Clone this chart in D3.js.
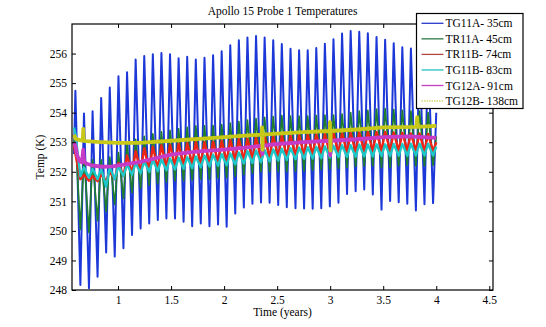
<!DOCTYPE html>
<html><head><meta charset="utf-8">
<script src="https://cdn.jsdelivr.net/npm/d3@7"></script>
<style>
body{margin:0;background:#fff}
svg{display:block}
text{font-family:"Liberation Serif","Times New Roman",Times,serif;fill:#000}
</style>
</head><body>
<svg id="chart" width="546" height="327"></svg>
<script>
// ---------- data ----------
const chartTitle = "Apollo 15 Probe 1 Temperatures";
const xLabel = "Time (years)";
const yLabel = "Temp (K)";
const xTicks = [1, 1.5, 2, 2.5, 3, 3.5, 4, 4.5];
const yTicks = [248, 249, 250, 251, 252, 253, 254, 255, 256];
const seriesNames = ["TG11A- 35cm", "TR11A- 45cm", "TR11B- 74cm", "TG11B- 83cm", "TG12A- 91cm", "TG12B- 138cm"];

const timeSpan = [0.585, 4.0];
const peakTimes = [0.598,0.679,0.760,0.841,0.922,1.004,1.085,1.166,1.247,1.328,1.409,1.490,1.571,1.652,1.733,1.815,1.896,1.977,2.058,2.139,2.220,2.301,2.382,2.463,2.544,2.626,2.707,2.788,2.869,2.950,3.031,3.112,3.193,3.274,3.355,3.437,3.518,3.599,3.680,3.761,3.842,3.923];
const troughTimes = [0.645,0.726,0.807,0.888,0.969,1.051,1.132,1.213,1.294,1.375,1.456,1.537,1.618,1.699,1.780,1.862,1.943,2.024,2.105,2.186,2.267,2.348,2.429,2.510,2.591,2.673,2.754,2.835,2.916,2.997,3.078,3.159,3.240,3.321,3.402,3.484,3.565,3.646,3.727,3.808,3.889,3.970];

// TG11A 35cm
const tg11aEnds = [252.60, 254.00];
const tg11aHigh = [254.74,253.97,254.05,254.50,254.85,255.23,255.37,255.80,255.92,255.98,256.02,255.98,255.84,255.89,255.80,255.86,255.94,256.08,256.28,256.45,256.54,256.59,256.54,256.45,256.32,256.16,256.11,256.11,256.19,256.33,256.48,256.68,256.76,256.74,256.69,256.56,256.47,256.35,256.21,256.17,256.15,256.10];
const tg11aLow = [248.17,248.06,248.45,249.27,249.13,249.41,249.86,250.08,250.25,250.37,250.42,250.42,250.31,250.16,250.25,250.16,250.22,250.14,250.59,250.79,250.92,250.96,250.95,250.88,250.80,250.77,250.76,250.75,250.77,250.83,250.95,251.25,251.34,251.40,251.23,250.72,251.01,250.97,250.92,250.69,250.90,250.94];
// TR11A 45cm
const tr11aEnds = [253.00, 253.20];
const tr11aHigh = [253.20,252.50,252.40,252.40,252.50,252.65,252.95,253.10,253.20,253.28,253.35,253.40,253.45,253.50,253.55,253.55,253.56,253.60,253.65,253.70,253.75,253.80,253.84,253.87,253.90,253.88,253.88,253.88,253.90,253.92,253.92,253.95,254.00,254.05,254.08,254.12,254.14,254.10,254.08,254.05,254.05,254.00];
const tr11aLow = [250.05,249.95,250.35,250.65,250.90,251.10,251.30,251.45,251.55,251.60,251.65,251.70,251.70,251.72,251.75,251.75,251.78,251.80,251.85,251.90,251.95,252.00,252.00,252.00,252.00,252.02,252.03,252.05,252.08,252.10,252.12,252.15,252.18,252.20,252.20,252.15,252.15,252.20,252.22,252.20,252.20,252.22];
// TR11B 74cm
const tr11bEnds = [252.90, 253.00];
const tr11bHigh = [252.60,251.90,251.85,251.90,252.00,252.30,252.55,252.70,252.80,252.85,252.90,252.92,252.95,252.97,253.00,253.00,253.02,253.05,253.08,253.10,253.12,253.15,253.18,253.20,253.22,253.22,253.24,253.25,253.26,253.28,253.30,253.30,253.32,253.33,253.35,253.35,253.35,253.33,253.32,253.30,253.30,253.28];
const tr11bLow = [251.75,251.70,251.68,251.70,251.75,251.85,251.95,252.00,252.05,252.10,252.15,252.20,252.22,252.25,252.28,252.30,252.32,252.35,252.38,252.40,252.42,252.45,252.48,252.50,252.52,252.54,252.56,252.58,252.60,252.62,252.64,252.66,252.68,252.70,252.70,252.72,252.72,252.72,252.72,252.72,252.70,252.70];
// TG11B 83cm
const tg11bEnds = [253.50, 252.85];
const tg11bHigh = [253.30,252.15,252.10,252.10,252.15,252.20,252.25,252.30,252.35,252.40,252.42,252.45,252.48,252.50,252.52,252.55,252.58,252.60,252.62,252.65,252.70,252.72,252.74,252.76,252.78,252.80,252.82,252.83,252.84,252.86,252.88,252.90,252.90,252.92,252.92,252.93,252.93,252.94,252.94,252.95,252.95,252.95];
const tg11bLow = [251.85,251.80,251.75,251.50,251.75,251.85,251.90,251.95,252.00,252.02,252.05,252.08,252.10,252.12,252.15,252.18,252.20,252.22,252.25,252.28,252.30,252.32,252.35,252.38,252.40,252.42,252.44,252.45,252.46,252.48,252.50,252.50,252.51,252.52,252.52,252.53,252.53,252.54,252.54,252.55,252.55,252.55];
// TG12A 91cm
const tg12aTime = [0.585,0.600,0.615,0.635,0.660,0.672,0.680,0.700,0.750,0.850,0.950,1.050,1.200,1.350,1.500,1.650,1.800,2.000,2.200,2.355,2.360,2.365,2.500,2.750,2.995,3.000,3.005,3.250,3.500,3.750,4.000];
const tg12aTemp = [253.00,252.85,252.55,252.38,252.32,252.75,252.35,252.28,252.22,252.17,252.18,252.24,252.33,252.45,252.58,252.65,252.70,252.75,252.82,252.88,252.60,252.88,252.94,253.00,253.05,252.55,253.05,253.10,253.17,253.20,253.15];
// TG12B 138cm
const tg12bTime = [0.585,0.600,0.650,0.668,0.672,0.676,0.700,0.800,1.000,1.200,1.500,1.800,2.000,2.200,2.355,2.358,2.362,2.365,2.500,2.750,2.995,2.998,3.002,3.005,3.250,3.500,3.815,3.820,3.825,4.000];
const tg12bTemp = [253.25,253.12,253.06,253.05,253.45,253.05,253.04,253.01,252.98,252.98,253.05,253.12,253.17,253.22,253.26,253.50,252.75,253.26,253.29,253.34,253.38,253.68,252.72,253.38,253.43,253.50,253.52,253.85,253.52,253.55];

// ---------- build series ----------
function zigzag(ends, high, low) {
  const pts = [[timeSpan[0], ends[0]]];
  for (let i = 0; i < peakTimes.length; i++) {
    pts.push([peakTimes[i], high[i]]);
    pts.push([troughTimes[i], low[i]]);
  }
  pts.push([timeSpan[1], ends[1]]);
  return pts;
}
function pairs(t, v) { return t.map((d, i) => [d, v[i]]); }

const colors = ["#1c38d8", "#1f7d2c", "#ee2416", "#1ec8c8", "#c63cc6", "#c8c818"];
const legendColors = ["#2a3ad0", "#2e7a4a", "#b04a40", "#22c0c0", "#c040c0", "#d8d870"];
const widths = [2.0, 1.7, 2.4, 2.4, 3.8, 3.8];
const series = [
  zigzag(tg11aEnds, tg11aHigh, tg11aLow),
  zigzag(tr11aEnds, tr11aHigh, tr11aLow),
  zigzag(tr11bEnds, tr11bHigh, tr11bLow),
  zigzag(tg11bEnds, tg11bHigh, tg11bLow),
  pairs(tg12aTime, tg12aTemp),
  pairs(tg12bTime, tg12bTemp)
];

// ---------- layout ----------
const L = 72, R = 493, T = 24, B = 290;
const x = d3.scaleLinear().domain([0.566, 4.535]).range([L, R]);
const y = d3.scaleLinear().domain([248, 257]).range([B, T]);
const svg = d3.select("#chart");
const FS = 11.5;

svg.append("defs").append("clipPath").attr("id", "clip")
  .append("rect").attr("x", L).attr("y", T).attr("width", R - L).attr("height", B - T);

const line = d3.line().x(d => x(d[0])).y(d => y(d[1]));
const g = svg.append("g").attr("clip-path", "url(#clip)");
series.forEach((s, i) => {
  g.append("path").datum(s).attr("d", line)
    .attr("fill", "none").attr("stroke", colors[i])
    .attr("stroke-width", widths[i]).attr("stroke-linejoin", "round");
});

// axes (ticks inward, box)
const fmt = d => String(d);
svg.append("g").attr("transform", `translate(0,${B})`)
  .call(d3.axisBottom(x).tickValues(xTicks).tickSize(-4).tickSizeOuter(0).tickPadding(6).tickFormat(fmt));
svg.append("g").attr("transform", `translate(0,${T})`)
  .call(d3.axisTop(x).tickValues(xTicks).tickSize(-4).tickSizeOuter(0).tickFormat(""));
svg.append("g").attr("transform", `translate(${L},0)`)
  .call(d3.axisLeft(y).tickValues(yTicks).tickSize(-4).tickSizeOuter(0).tickPadding(5).tickFormat(fmt));
svg.append("g").attr("transform", `translate(${R},0)`)
  .call(d3.axisRight(y).tickValues(yTicks).tickSize(-4).tickSizeOuter(0).tickFormat(""));
svg.selectAll(".domain").remove();
svg.selectAll(".tick line").attr("stroke", "#000").attr("stroke-width", 1);
svg.selectAll(".tick text").attr("font-size", FS).attr("font-family", "Liberation Serif, serif").attr("fill", "#000");
svg.append("rect").attr("x", L).attr("y", T).attr("width", R - L).attr("height", B - T)
  .attr("fill", "none").attr("stroke", "#000").attr("stroke-width", 1.2);

// titles
svg.append("text").attr("x", (L + R) / 2).attr("y", 14.5).attr("text-anchor", "middle")
  .attr("font-size", FS).text(chartTitle);
svg.append("text").attr("x", (L + R) / 2).attr("y", 316).attr("text-anchor", "middle")
  .attr("font-size", FS).text(xLabel);
svg.append("text").attr("transform", `translate(44,${(T + B) / 2}) rotate(-90)`)
  .attr("text-anchor", "middle").attr("font-size", FS).text(yLabel);

// legend
const lg = svg.append("g");
lg.append("rect").attr("x", 416.5).attr("y", 13.5).attr("width", 106.5).attr("height", 95)
  .attr("fill", "#fff").attr("stroke", "#000").attr("stroke-width", 1.2);
seriesNames.forEach((n, i) => {
  const yy = 23.3 + i * 15.55;
  lg.append("line").attr("x1", 421.5).attr("x2", 443.5).attr("y1", yy).attr("y2", yy)
    .attr("stroke", legendColors[i]).attr("stroke-width", i === 5 ? 1.5 : 1.3)
    .attr("stroke-dasharray", i === 5 ? "1.5,1" : null);
  lg.append("text").attr("x", 445.5).attr("y", yy).attr("dy", "0.35em")
    .attr("font-size", FS).text(n);
});
</script>
</body></html>
